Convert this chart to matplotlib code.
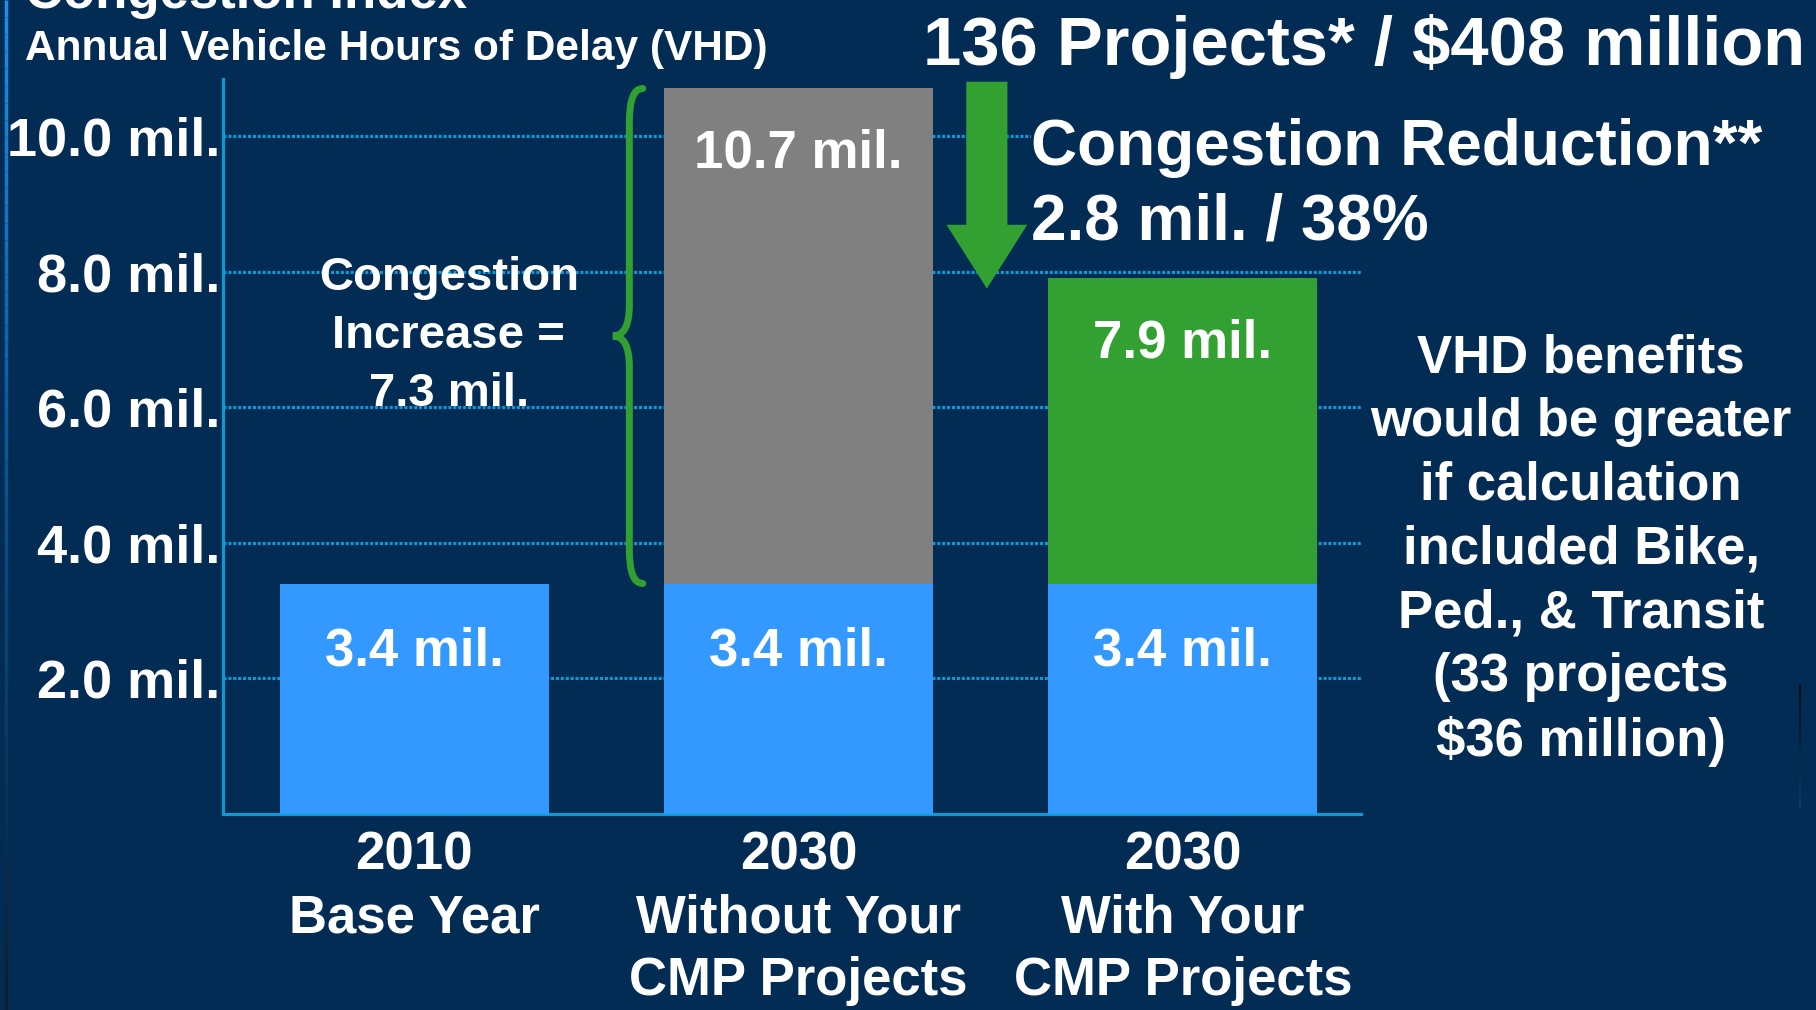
import matplotlib.pyplot as plt
import matplotlib.patches as mpatches
from matplotlib.path import Path
from matplotlib.collections import LineCollection
from matplotlib.colors import LinearSegmentedColormap
import numpy as np

plt.rcParams['font.family'] = ['Liberation Sans', 'DejaVu Sans']
plt.rcParams['font.weight'] = 'bold'

# data (million vehicle hours of delay)
categories = ['2010\nBase Year', '2030\nWithout Your\nCMP Projects', '2030\nWith Your\nCMP Projects']
base_vhd = [3.4, 3.4, 3.4]
total_vhd = [3.4, 10.7, 7.9]
increase = 7.3
reduction = 2.8
reduction_pct = 38
yticks = [2, 4, 6, 8, 10]
ytick_labels = ['2.0 mil.', '4.0 mil.', '6.0 mil.', '8.0 mil.', '10.0 mil.']

bg = '#032c55'
blue = '#3399fe'
gray = '#808080'
green = '#32a132'
axis_col = '#0a9ad6'

fig = plt.figure(figsize=(18.16, 10.10), dpi=100, facecolor=bg)
ax = fig.add_axes([0.1228, 0.194, 0.6266, 0.7278])
ax.set_facecolor(bg)

x = np.arange(len(categories))
upper = [t - b for t, b in zip(total_vhd, base_vhd)]
ax.bar(x, base_vhd, width=0.7, color=blue, zorder=3)
ax.bar(x[1:], upper[1:], bottom=base_vhd[1:], width=0.7, color=[gray, green], zorder=3)

# value labels inside bars
for i in range(len(x)):
    ax.annotate(f'{base_vhd[i]:.1f} mil.', (x[i], base_vhd[i]), xytext=(0, -49),
                textcoords='offset points', ha='center', va='center',
                color='white', fontsize=38, zorder=5)
    if upper[i] > 0:
        ax.annotate(f'{total_vhd[i]:.1f} mil.', (x[i], total_vhd[i]), xytext=(0, -47),
                    textcoords='offset points', ha='center', va='center',
                    color='white', fontsize=38, zorder=5)

ax.set_xlim(-0.497, 2.463)
ax.set_ylim(0, 10.84)
ax.set_yticks(yticks, ytick_labels)
ax.set_xticks(x, categories)
ax.tick_params(axis='y', length=0, pad=2, labelsize=39, labelcolor='white')
ax.tick_params(axis='x', length=0, pad=12, labelsize=38, labelcolor='white')
for lab in ax.get_xticklabels():
    lab.set_linespacing(1.33)

ax.grid(axis='y', color=axis_col, linewidth=2.2, linestyle=(0, (1.0, 0.6)))
ax.set_axisbelow(True)
for s in ['top', 'right']:
    ax.spines[s].set_visible(False)
for s in ['left', 'bottom']:
    ax.spines[s].set_color(axis_col)
    ax.spines[s].set_linewidth(2.2)

# brace showing the increase on the middle bar
edge = x[1] - 0.35
x_end, x_line, x_tip = edge - 0.055, edge - 0.09, edge - 0.133
y0, y1 = base_vhd[1], total_vhd[1]
mid = (y0 + y1) / 2
r_end, r_mid = 0.5, 0.45
verts = [(x_end, y1), (x_line, y1), (x_line, y1 - r_end),
         (x_line, mid + r_mid), (x_line, mid), (x_tip, mid),
         (x_line, mid), (x_line, mid - r_mid),
         (x_line, y0 + r_end), (x_line, y0), (x_end, y0)]
codes = [Path.MOVETO, Path.CURVE3, Path.CURVE3,
         Path.LINETO, Path.CURVE3, Path.CURVE3,
         Path.CURVE3, Path.CURVE3,
         Path.LINETO, Path.CURVE3, Path.CURVE3]
ax.add_patch(mpatches.PathPatch(Path(verts, codes), facecolor='none', edgecolor=green,
                                lw=5, capstyle='round', zorder=4))
ax.text(0.09, mid, f'Congestion\nIncrease =\n{increase} mil.', ha='center', va='center',
        color='white', fontsize=34, linespacing=1.4, zorder=5)

# reduction arrow
arrow_top = total_vhd[1] + 0.1
arrow_tip = total_vhd[2] - 0.15
ax.add_patch(mpatches.FancyArrow(1.49, arrow_top, 0, arrow_tip - arrow_top,
                                 width=0.107, head_width=0.21, head_length=0.94,
                                 length_includes_head=True, color=green, lw=0, zorder=4))

# header texts
fig.text(0.0138, 0.992, 'Congestion Index', ha='left', va='baseline', color='white', fontsize=38)
fig.text(0.0138, 0.951, 'Annual Vehicle Hours of Delay (VHD)', ha='left', va='center',
         color='white', fontsize=30.5)
fig.text(0.508, 0.954, '136 Projects* / $408 million', ha='left', va='center',
         color='white', fontsize=49.5)
fig.text(0.5677, 0.853, 'Congestion Reduction**', ha='left', va='center', color='white',
         fontsize=46, bbox=dict(facecolor=bg, edgecolor='none', pad=0))
fig.text(0.5677, 0.780, f'{reduction} mil. / {reduction_pct}%', ha='left', va='center',
         color='white', fontsize=46)
fig.text(0.8706, 0.4554, 'VHD benefits\nwould be greater\nif calculation\nincluded Bike,\n'
         'Ped., & Transit\n(33 projects\n$36 million)', ha='center', va='center',
         color='white', fontsize=38, linespacing=1.35)

# slide edge lines
cmap = LinearSegmentedColormap.from_list('edge', ['#1a90e8', '#0a4f8a', '#0c1e30'])
ys = np.linspace(1, 0, 60)
segs = [[(0.0035, ys[i]), (0.0035, ys[i + 1])] for i in range(len(ys) - 1)]
fig.add_artist(LineCollection(segs, colors=cmap(np.linspace(0, 1, len(segs))), linewidths=2.5,
                              transform=fig.transFigure))
cmap2 = LinearSegmentedColormap.from_list('edge2', ['#050c18', '#083a66'])
ys2 = np.linspace(1 - 685 / 1010, 1 - 810 / 1010, 20)
segs2 = [[(0.991, ys2[i]), (0.991, ys2[i + 1])] for i in range(len(ys2) - 1)]
fig.add_artist(LineCollection(segs2, colors=cmap2(np.linspace(0, 1, len(segs2))), linewidths=1.5,
                              transform=fig.transFigure))

fig.savefig('out.png', dpi=100, facecolor=bg)
